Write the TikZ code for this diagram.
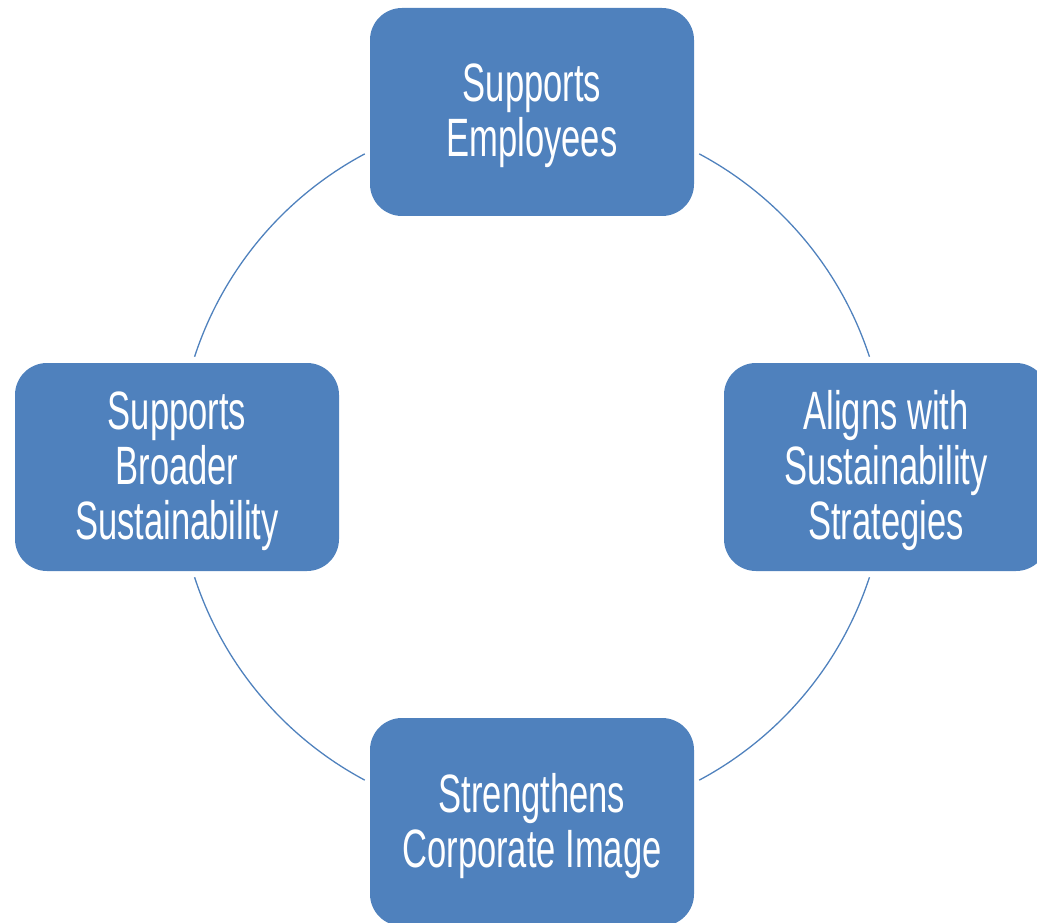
\documentclass[tikz,border=0pt]{standalone}
\usepackage{fontspec}
\setmainfont[FakeStretch=0.64]{Liberation Sans}
\usetikzlibrary{calc}
\definecolor{boxblue}{HTML}{4F81BD}
\begin{document}
\begin{tikzpicture}[x=1pt,y=-1pt,
  card/.style={fill=boxblue, draw=none, rounded corners=32pt, minimum width=324pt, minimum height=208pt, inner sep=0pt},
  cardtext/.style={text=white, align=center, font=\fontsize{54}{55}\selectfont, inner sep=0pt, yshift=-4pt},
  ring/.style={draw=boxblue, line width=1.3pt}]
\useasboundingbox (0,0) rectangle (1037,923);
\coordinate (O) at (532,467);
\coordinate (a1) at ($(O)+(-61.9:355)$);
\coordinate (a2) at ($(O)+(18.1:355)$);
\coordinate (a3) at ($(O)+(118.1:355)$);
\coordinate (a4) at ($(O)+(198.1:355)$);
\draw[ring] (a1) arc[start angle=-61.9, end angle=-18.1, radius=355];
\draw[ring] (a2) arc[start angle=18.1, end angle=61.9, radius=355];
\draw[ring] (a3) arc[start angle=118.1, end angle=161.9, radius=355];
\draw[ring] (a4) arc[start angle=198.1, end angle=241.9, radius=355];
\node[card] (top) at (532,112) {};
\node[card] (right) at (886,467) {};
\node[card] (bottom) at (532,822) {};
\node[card] (left) at (177,467) {};
\node[cardtext] (topt) at (top.center) {Supports\\Employees};
\node[cardtext] (rightt) at (right.center) {Aligns with\\Sustainability\\Strategies};
\node[cardtext] (bottomt) at (bottom.center) {Strengthens\\Corporate Image};
\node[cardtext] (leftt) at (left.center) {Supports\\Broader\\Sustainability};
\end{tikzpicture}
\end{document}
